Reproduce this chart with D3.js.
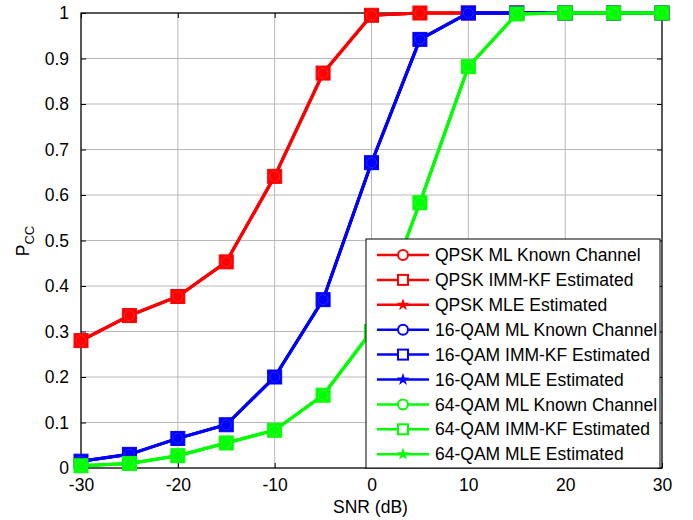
<!DOCTYPE html>
<html><head><meta charset="utf-8">
<script src="https://cdn.jsdelivr.net/npm/d3@7/dist/d3.min.js"></script>
<style>body{margin:0;background:#fff}svg{font-family:"Liberation Sans",Arial,sans-serif}</style>
</head><body><svg id="c" width="693" height="520"></svg>
<script>
const snr = [-30,-25,-20,-15,-10,-5,0,5,10,15,20,25,30];
const qpsk = [0.280,0.335,0.377,0.453,0.641,0.868,0.995,1,1,1,1,1,1];
const qam16 = [0.015,0.030,0.065,0.095,0.200,0.370,0.671,0.942,1,1,1,1,1];
const qam64 = [0.005,0.010,0.027,0.055,0.083,0.160,0.300,0.583,0.882,0.998,1,1,1];
const xTicks = [-30,-20,-10,0,10,20,30];
const yTicks = [0,0.1,0.2,0.3,0.4,0.5,0.6,0.7,0.8,0.9,1];
const seriesNames = ["QPSK","16-QAM","64-QAM"];
const variants = ["ML Known Channel","IMM-KF Estimated","MLE Estimated"];
const colors = ["#ff0000","#0000ff","#00ff00"];
const lightColors = ["#ff3030","#3030ff","#40ff40"];

const svg = d3.select("#c");
const L=81,R=662,T=13,B=468;
const x = d3.scaleLinear().domain([-30,30]).range([L,R]);
const y = d3.scaleLinear().domain([0,1]).range([B,T]);

// grid
const g = svg.append("g");
g.selectAll(".vx").data(xTicks).enter().append("line")
 .attr("x1",d=>x(d)).attr("x2",d=>x(d)).attr("y1",T).attr("y2",B)
 .attr("stroke","#b8b8b8").attr("stroke-width",1);
g.selectAll(".hy").data(yTicks).enter().append("line")
 .attr("y1",d=>y(d)).attr("y2",d=>y(d)).attr("x1",L).attr("x2",R)
 .attr("stroke","#b8b8b8").attr("stroke-width",1);

// axes with inward ticks
const fs = 17.5;
const ax = svg.append("g").attr("transform",`translate(0,${B})`)
 .call(d3.axisBottom(x).tickValues(xTicks).tickSize(-5).tickPadding(12).tickFormat(d=>String(d)));
const ay = svg.append("g").attr("transform",`translate(${L},0)`)
 .call(d3.axisLeft(y).tickValues(yTicks).tickSize(-5).tickPadding(12).tickFormat(d=>String(+d.toFixed(1))));
const axT = svg.append("g").attr("transform",`translate(0,${T})`)
 .call(d3.axisTop(x).tickValues(xTicks).tickSize(-5).tickFormat(""));
const ayR = svg.append("g").attr("transform",`translate(${R},0)`)
 .call(d3.axisRight(y).tickValues(yTicks).tickSize(-5).tickFormat(""));
[ax,ay,axT,ayR].forEach(a=>{
  a.select(".domain").remove();
  a.selectAll("line").attr("stroke","#000");
  a.selectAll("text").attr("font-size",fs).attr("fill","#000").attr("font-family","Liberation Sans, Arial, sans-serif");
});
ax.selectAll("text").attr("dy","0.6em");
svg.append("rect").attr("x",L).attr("y",T).attr("width",R-L).attr("height",B-T)
 .attr("fill","none").attr("stroke","#000").attr("stroke-width",1.2);

// data
const data = [qpsk,qam16,qam64];
const line = d3.line().x((d,i)=>x(snr[i])).y(d=>y(d));
const plot = svg.append("g");
data.forEach((vals,k)=>{
  for(let v=0; v<3; v++){
    plot.append("path").datum(vals).attr("d",line)
     .attr("fill","none").attr("stroke",colors[k]).attr("stroke-width",3);
  }
  const pts = plot.append("g");
  vals.forEach((d,i)=>{
    const cx=x(snr[i]), cy=y(d);
    pts.append("rect").attr("x",cx-7).attr("y",cy-7).attr("width",14).attr("height",14)
     .attr("fill",colors[k]).attr("stroke",colors[k]).attr("stroke-width",1);
    pts.append("circle").attr("cx",cx).attr("cy",cy).attr("r",5)
     .attr("fill","none").attr("stroke",lightColors[k]).attr("stroke-width",0.8);
  });
});

// legend
const lx=366, ly=239, lw=294, lh=229;
const leg = svg.append("g");
leg.append("rect").attr("x",lx).attr("y",ly).attr("width",lw).attr("height",lh)
 .attr("fill","#fff").attr("stroke","#000").attr("stroke-width",1);
let row=0;
seriesNames.forEach((s,k)=>{
  variants.forEach((vn,v)=>{
    const yy = ly+16+row*24.9;
    leg.append("line").attr("x1",377).attr("x2",429).attr("y1",yy).attr("y2",yy)
      .attr("stroke",colors[k]).attr("stroke-width",2.5);
    if(v===0){
      leg.append("circle").attr("cx",403).attr("cy",yy).attr("r",5)
       .attr("fill","#fff").attr("stroke",colors[k]).attr("stroke-width",2);
    } else if(v===1){
      leg.append("rect").attr("x",398).attr("y",yy-5).attr("width",10).attr("height",10)
       .attr("fill","#fff").attr("stroke",colors[k]).attr("stroke-width",2);
    } else {
      leg.append("path").attr("d",d3.symbol().type(d3.symbolStar).size(50)())
       .attr("transform",`translate(403,${yy})`).attr("fill",colors[k]);
    }
    leg.append("text").attr("x",435).attr("y",yy).attr("dy","0.35em")
      .attr("font-size",fs).attr("fill","#000").text(s+" "+vn);
    row++;
  });
});

// axis labels
svg.append("text").attr("x",(L+R)/2-1).attr("y",513).attr("text-anchor","middle")
 .attr("font-size",fs).attr("fill","#000").text("SNR (dB)");
const yl = svg.append("text").attr("transform","translate(29,241) rotate(-90)")
 .attr("text-anchor","middle").attr("font-size",fs).attr("fill","#000");
yl.append("tspan").text("P");
yl.append("tspan").attr("font-size",13).attr("dy",5).text("CC");
</script></body></html>
